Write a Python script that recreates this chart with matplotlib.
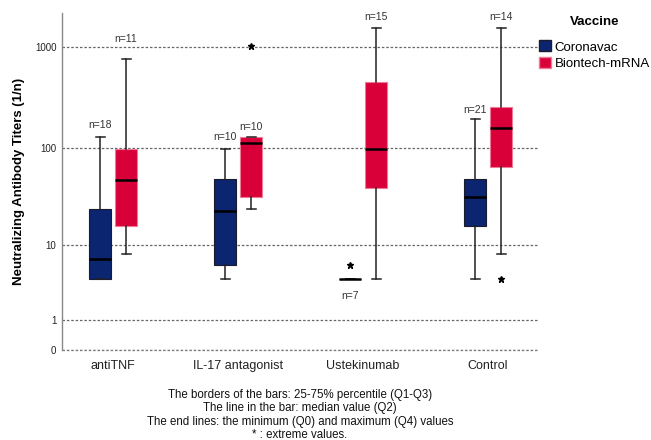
import numpy as np
import matplotlib.pyplot as plt
from matplotlib.patches import Patch

plt.rcParams['font.family'] = ['Liberation Sans', 'DejaVu Sans']

categories = ['antiTNF', 'IL-17 antagonist', 'Ustekinumab', 'Control']
vaccines = ['Coronavac', 'Biontech-mRNA']
colors = ['#0b2570', '#d9003a']
edges = ['#1b1b2e', '#f07a95']

# five-number summaries: min, Q1, median, Q3, max
cor_min = [4, 4, 4, 4]
cor_q1 = [4, 5.9, 4, 15.9]
cor_med = [7, 22.8, 4, 32]
cor_q3 = [24, 48, 4, 48]
cor_max = [128, 97, 4, 193]
cor_n = [18, 10, 7, 21]
cor_extreme = [[], [], [6], []]

bio_min = [8, 24, 4, 8]
bio_q1 = [16, 32, 39, 64]
bio_med = [47.5, 110, 97, 156]
bio_q3 = [97, 128, 446, 255]
bio_max = [765, 128, 1540, 1540]
bio_n = [11, 10, 15, 14]
bio_extreme = [[], [1024], [], [4]]

yticks = [0, 1, 10, 100, 1000]

footnote = ('The borders of the bars: 25-75% percentile (Q1-Q3)\n'
            'The line in the bar: median value (Q2)\n'
            'The end lines: the minimum (Q0) and maximum (Q4) values\n'
            '* : extreme values.')


def fwd(v):
    return np.log10(np.clip(v, 0, None) + 1)


def inv(v):
    return 10 ** v - 1


def make_stats(mn, q1, med, q3, mx, ext):
    return [dict(whislo=a, q1=b, med=c, q3=d, whishi=e, fliers=f)
            for a, b, c, d, e, f in zip(mn, q1, med, q3, mx, ext)]


fig = plt.figure(figsize=(6.51, 4.40), dpi=100)
ax = fig.add_axes([62 / 651, 1 - 350 / 440, 476 / 651, 337 / 440])
ax.set_yscale('function', functions=(fwd, inv))
ax.set_ylim(0, 2170)
ax.set_xlim(-0.408, 3.4)

x = np.arange(len(categories))
off = 0.104
groups = [
    (make_stats(cor_min, cor_q1, cor_med, cor_q3, cor_max, cor_extreme), x - off, cor_n, [12, 12, -17, 9]),
    (make_stats(bio_min, bio_q1, bio_med, bio_q3, bio_max, bio_extreme), x + off, bio_n, [20, 10, 11, 11]),
]

for i, (stats, pos, ns, pads) in enumerate(groups):
    ax.bxp(stats, positions=pos, widths=0.17, capwidths=0.072, patch_artist=True,
           showfliers=True, manage_ticks=False,
           boxprops=dict(facecolor=colors[i], edgecolor=edges[i], linewidth=0.8),
           medianprops=dict(color='black', linewidth=1.8),
           whiskerprops=dict(color='#222222', linewidth=1.1),
           capprops=dict(color='#222222', linewidth=1.1),
           flierprops=dict(marker='*', markersize=5, markerfacecolor='black',
                           markeredgecolor='black', linestyle='none'))
    for p, s, n, pad in zip(pos, stats, ns, pads):
        yv = s['whishi'] if pad > 0 else s['whislo']
        ax.annotate('n=%d' % n, (p, yv), xytext=(0, pad), textcoords='offset pixels',
                    ha='center', va='center', fontsize=7.5, color='#333333')

ax.set_yticks(yticks)
ax.set_yticklabels([str(t) for t in yticks])
ax.yaxis.grid(True, linestyle=(0, (2, 1.5)), color='#666666', linewidth=0.9)
ax.axhline(0, linestyle=(0, (2, 1.5)), color='#777777', linewidth=0.9, clip_on=False, zorder=0.5)
ax.set_axisbelow(True)
ax.tick_params(axis='y', length=0, pad=4, labelsize=7, labelcolor='#222222')
ax.set_xticks(x)
ax.set_xticklabels(categories)
ax.tick_params(axis='x', length=0, pad=7, labelsize=9, labelcolor='#222222')
for side in ['top', 'right', 'bottom']:
    ax.spines[side].set_visible(False)
ax.spines['left'].set_color('#888888')
ax.spines['left'].set_linewidth(1.0)

ax.set_ylabel('Neutralizing Antibody Titers (1/n)', fontsize=9.5, fontweight='bold', labelpad=7)

handles = [Patch(facecolor=colors[k], edgecolor=edges[k]) for k in range(2)]
leg = fig.legend(handles, vaccines, title='Vaccine', loc='upper left',
                 bbox_to_anchor=(539 / 651, 1 - 16 / 440), frameon=False, fontsize=9.5,
                 title_fontproperties={'weight': 'bold', 'size': 9.5},
                 handlelength=0.9, handleheight=0.9, handletextpad=0.3,
                 labelspacing=0.25, borderpad=0, borderaxespad=0)
leg._legend_box.sep = 9

fig.text(300 / 651, 1 - 389 / 440, footnote, ha='center', va='top',
         fontsize=8.3, linespacing=1.15, color='#111111')

fig.savefig('out.png', dpi=100)
